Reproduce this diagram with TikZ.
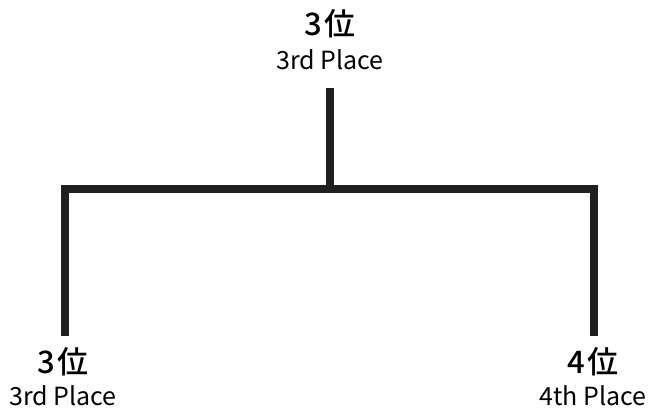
\documentclass[tikz,border=0pt]{standalone}
\usepackage{fontspec}
\setmainfont{Noto Sans CJK JP}
\newfontfamily\rankfont{Noto Sans CJK JP Medium}
\begin{document}
\begin{tikzpicture}[x=1pt,y=-1pt,
  rank/.style={inner sep=0pt,font=\fontsize{31}{33}\selectfont\rankfont},
  place/.style={inner sep=0pt,font=\fontsize{25}{27}\selectfont},
  bracket/.style={line width=8pt,draw=black!88,line cap=butt,line join=miter}]
\useasboundingbox (0,0) rectangle (648,410);
% labels
\node[rank] (topr) at (330,24) {3\kern2pt位};
\node[place] (topp) at (330,60) {3rd Place};
\node[rank] (lr) at (63,362) {3\kern2pt位};
\node[place] (lp) at (63,396) {3rd Place};
\node[rank] (rr) at (593,362) {4\kern2pt位};
\node[place] (rp) at (593,396) {4th Place};
% connector ends
\coordinate (tend) at (330,88);
\coordinate (junc) at (330,189);
\coordinate (lend) at (65,336);
\coordinate (rend) at (593.5,336);
\draw[bracket] (tend) -- (junc);
\draw[bracket] (lend) |- (junc) -| (rend);
\end{tikzpicture}
\end{document}
